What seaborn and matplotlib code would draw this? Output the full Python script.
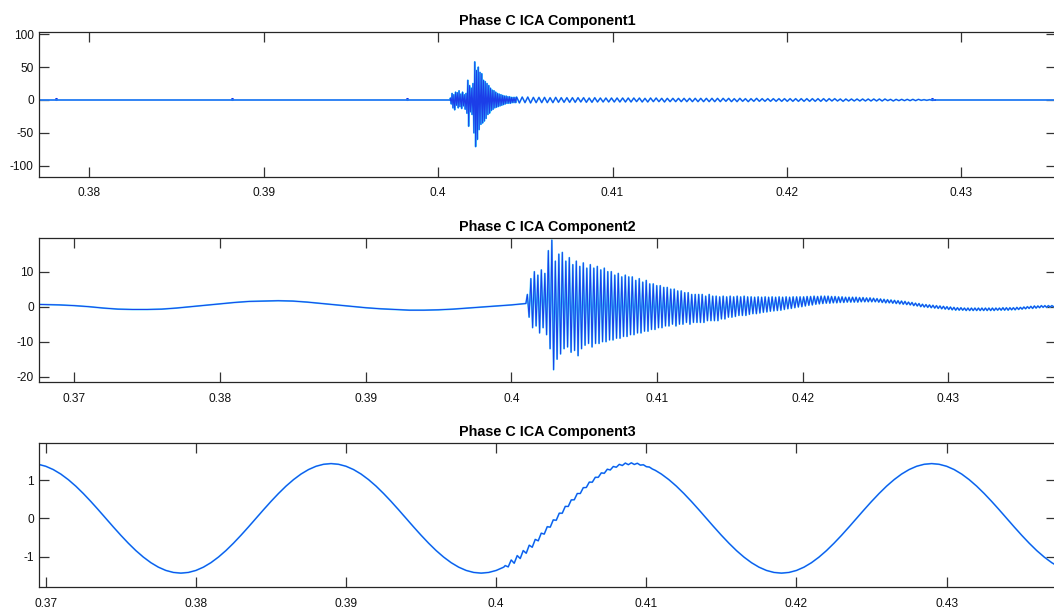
import numpy as np
import pandas as pd
import matplotlib
matplotlib.use("Agg")
import matplotlib.pyplot as plt
import seaborn as sns

sns.set_style("ticks")
plt.rcParams["font.family"] = ["Liberation Sans", "DejaVu Sans"]

# ---------------- data ----------------
titles = ["Phase C ICA Component1", "Phase C ICA Component2", "Phase C ICA Component3"]

x_ticks_1 = [0.38, 0.39, 0.40, 0.41, 0.42, 0.43]
x_labels_1 = ["0.38", "0.39", "0.4", "0.41", "0.42", "0.43"]
x_ticks_23 = [0.37, 0.38, 0.39, 0.40, 0.41, 0.42, 0.43]
x_labels_23 = ["0.37", "0.38", "0.39", "0.4", "0.41", "0.42", "0.43"]
y_ticks_1 = [-100, -50, 0, 50, 100]
y_ticks_2 = [-20, -10, 0, 10]
y_ticks_3 = [-1, 0, 1]
x_lims = [(0.37713, 0.43540), (0.36760, 0.43735), (0.36957, 0.43725)]
y_lims = [(-116.7, 103.0), (-21.6, 19.7), (-1.80, 1.96)]

# Component 1
c1_pre_start, c1_pre_step = 0.3765, 0.0242
c1_pre = [0.0, 0.0]
c1_burst_start, c1_burst_step = 0.4007, 0.00005
c1_burst = [3, -6, 10, -12, 8, -15, 12, -8, 11, -12, 14, -10, 9, -13, 12, -9, 8, -14, 10,
            -20, 30, -40, 22, -18, 18, -22, 25,
            -50, 58, -71, 45, -60, 50, -45, 42,
            -37, 40, -35, 30, -32, 28, -28, 25, -22, 22, -20,
            18, -16, 15, -14, 14, -12, 12, -11, 10, -10, 9, -9, 8, -8, 7, -7,
            6, -6, 6, -5, 5, -5, 5, -5, 4, -4, 4, -4, 4, -4]
c1_ring_start, c1_ring_step = 0.4045, 0.00016
c1_ring = [4.5, -4.5, 4.5, -4.0, 4.5, -4.5, 4.0, -4.0, 4.0, -4.0,
           4.0, -4.0, 3.5, -4.0, 4.0, -3.5, 3.5, -3.5, 3.5, -3.5,
           3.5, -3.5, 3.5, -3.0, 3.5, -3.5, 3.0, -3.5, 3.5, -3.0,
           3.0, -3.0, 3.0, -3.0, 3.0, -3.0, 3.0, -3.0, 3.0, -3.0,
           3.0, -3.0, 3.0, -2.5, 3.0, -3.0, 2.5, -3.0, 3.0, -2.5,
           3.0, -2.5, 2.5, -3.0, 2.5, -2.5, 2.5, -2.5, 2.5, -2.5,
           2.5, -2.5, 2.5, -2.5, 2.5, -2.5, 2.5, -2.5, 2.5, -2.5,
           2.5, -2.5, 2.5, -2.5, 2.5, -2.0, 2.5, -2.5, 2.0, -2.5,
           2.5, -2.0, 2.0, -2.5, 2.0, -2.0, 2.5, -2.0, 2.0, -2.0,
           2.0, -2.0, 2.0, -2.0, 2.0, -2.0, 2.0, -2.0, 2.0, -2.0,
           2.0, -2.0, 2.0, -2.0, 2.0, -2.0, 2.0, -2.0, 2.0, -2.0,
           2.0, -2.0, 2.0, -1.5, 2.0, -1.5, 1.5, -2.0, 1.5, -1.5,
           1.5, -1.5, 1.5, -1.5, 1.5, -1.5, 1.5, -1.5, 1.5, -1.5,
           1.5, -1.5, 1.5, -1.0, 1.0, -1.5, 1.0, -1.0, 1.0, -1.0,
           1.0, -1.0, 1.0, -1.0, 1.0, -0.5, 0.5, -0.5, 0.5, -0.5,
           0.0]
c1_post_start, c1_post_step = 0.4285, 0.0080
c1_post = [0.0, 0.0]
c1_blip_t = [0.3781, 0.3882, 0.3982, 0.4283]
c1_blip_v = [1.5, 1.5, 1.5, 1.5]

# Component 2
c2_pre_start, c2_pre_step = 0.3670, 0.001
c2_pre = [0.7, 0.6, 0.5, 0.3, 0.0, -0.4, -0.7, -0.8, -0.8, -0.7,
          -0.4, 0.0, 0.4, 0.8, 1.2, 1.5, 1.6, 1.7, 1.6, 1.3,
          0.9, 0.5, 0.1, -0.3, -0.6, -0.8, -1.0, -1.0, -0.9, -0.7,
          -0.4, -0.1, 0.2, 0.5, 0.9]
c2_burst_start, c2_burst_step = 0.4011, 0.00012
c2_burst = [3.5, -3.0, 8.0, -6.0, 10.0, -5.5, 9.0, -7.5, 10.5, -6.0, 9.5, -8.0, 16.0, -12.0, 19.0, -18.0, 13.0, -15.0, 15.0, -13.5,
            15.5, -12.0, 13.0, -11.5, 14.0, -13.0, 12.0, -12.5, 13.0, -14.0, 11.5, -12.0, 12.5, -11.0, 11.0, -10.5, 12.0, -11.5, 11.0, -10.5,
            11.5, -10.5, 10.5, -10.0, 11.0, -10.0, 10.0, -9.5, 10.0, -9.5, 9.0, -9.0, 9.5, -9.0, 8.5, -8.5, 9.0, -8.5, 8.5, -8.0,
            8.5, -8.0, 7.5, -7.5, 8.0, -7.5, 7.0, -7.0, 7.5, -7.0, 6.5, -6.5, 6.5, -6.5, 6.0, -6.0, 6.0, -6.0, 5.5, -5.5,
            5.5, -5.5, 5.0, -5.0, 5.0, -5.5, 4.5, -5.0, 4.5, -5.0, 4.0, -4.5, 4.0, -5.0, 3.5, -4.5, 3.5, -4.5, 3.5, -4.5,
            3.5, -4.5, 3.0, -4.0, 3.5, -4.0, 3.0, -4.0, 3.0, -4.0, 2.8, -3.5, 3.0, -3.5, 2.8, -3.0, 3.0, -3.0, 2.8, -2.8,
            3.0, -2.5, 2.8, -2.5, 3.0, -2.5, 2.8, -2.2, 2.8, -2.0, 2.7, -2.0, 2.8, -1.8, 2.7, -1.6, 2.8, -1.5, 2.7, -1.3,
            2.8, -1.2, 2.7, -1.1, 2.8, -1.0, 2.7, -0.8, 2.8, -0.6, 2.7, -0.5, 2.8, -0.3, 2.8, -0.1, 2.8, 0.0, 2.8, 0.2,
            2.9, 0.4, 2.9, 0.5, 3.0, 0.7, 2.9, 0.8, 3.0, 0.9, 3.0, 1.0, 3.0, 1.0, 2.9, 1.1, 2.9, 1.1, 2.8, 1.2,
            2.8, 1.2, 2.7, 1.3, 2.7, 1.3, 2.7, 1.3, 2.7, 1.3, 2.6, 1.4, 2.6, 1.4, 2.5, 1.4, 2.5, 1.4, 2.4, 1.4,
            2.3, 1.3, 2.2, 1.2, 2.1, 1.1, 2.0, 1.1, 1.9, 1.0, 1.8, 0.9, 1.7, 0.8, 1.6, 0.7, 1.5, 0.6, 1.3, 0.5,
            1.2, 0.3, 1.0, 0.2, 0.9, 0.0, 0.7, -0.1, 0.6, -0.2, 0.5, -0.3, 0.4, -0.4, 0.3, -0.5, 0.2, -0.6, 0.1, -0.7,
            0.0, -0.8, -0.1, -0.9, -0.2, -1.0, -0.3, -1.0, -0.3, -1.0, -0.4, -1.1, -0.4, -1.1, -0.4, -1.1, -0.4, -1.1, -0.4, -1.1,
            -0.4, -1.1, -0.4, -1.1, -0.4, -1.1, -0.4, -1.1, -0.4, -1.0, -0.4, -1.0, -0.3, -1.0, -0.3, -1.0, -0.3, -0.9, -0.3, -0.9,
            -0.2, -0.8, -0.2, -0.7, -0.1, -0.6, 0.0, -0.5, 0.1, -0.5, 0.2, -0.4, 0.2, -0.3, 0.3, -0.2, 0.3, -0.2, 0.3, -0.1,
            0.3, 0.0]

# Component 3
c3_pre_start, c3_pre_step = 0.369, 0.0005
c3_pre = [1.430, 1.412, 1.360, 1.274, 1.157, 1.011, 0.841, 0.649, 0.442, 0.224,
          0.0, -0.224, -0.442, -0.649, -0.841, -1.011, -1.157, -1.274, -1.360, -1.412,
          -1.430, -1.412, -1.360, -1.274, -1.157, -1.011, -0.841, -0.649, -0.442, -0.224,
          0.0, 0.224, 0.442, 0.649, 0.841, 1.011, 1.157, 1.274, 1.360, 1.412,
          1.430, 1.412, 1.360, 1.274, 1.157, 1.011, 0.841, 0.649, 0.442, 0.224,
          0.0, -0.224, -0.442, -0.649, -0.841, -1.011, -1.157, -1.274, -1.360, -1.412,
          -1.430, -1.412, -1.360, -1.274]
c3_ripple_start, c3_ripple_step = 0.4006, 0.0002
c3_ripple = [-1.233, -1.267, -1.087, -1.172, -0.972, -1.049, -0.841, -0.911, -0.701, -0.754,
             -0.549, -0.586, -0.387, -0.411, -0.218, -0.229, -0.040, -0.050, 0.135, 0.134,
             0.313, 0.311, 0.482, 0.486, 0.649, 0.649, 0.801, 0.806, 0.946, 0.944,
             1.072, 1.072, 1.187, 1.177, 1.283, 1.264, 1.355, 1.335, 1.410, 1.380,
             1.444, 1.402, 1.450, 1.407, 1.439, 1.390, 1.400, 1.350, 1.340, 1.289,
             1.253]
c3_post_start, c3_post_step = 0.411, 0.0005
c3_post = [1.157, 1.011, 0.841, 0.649, 0.442, 0.224,
           0.0, -0.224, -0.442, -0.649, -0.841, -1.011, -1.157, -1.274, -1.360, -1.412,
           -1.430, -1.412, -1.360, -1.274, -1.157, -1.011, -0.841, -0.649, -0.442, -0.224,
           0.0, 0.224, 0.442, 0.649, 0.841, 1.011, 1.157, 1.274, 1.360, 1.412,
           1.430, 1.412, 1.360, 1.274, 1.157, 1.011, 0.841, 0.649, 0.442, 0.224,
           0.0, -0.224, -0.442, -0.649, -0.841, -1.011, -1.157, -1.274]


# ---------------- helpers ----------------
def seg(start, step, values):
    t = start + step * np.arange(len(values))
    return t, np.asarray(values, dtype=float)


def join(*segs):
    ts = np.concatenate([s[0] for s in segs])
    vs = np.concatenate([s[1] for s in segs])
    return pd.DataFrame({"t": ts, "v": vs})


df1 = join(seg(c1_pre_start, c1_pre_step, c1_pre),
           seg(c1_burst_start, c1_burst_step, c1_burst),
           seg(c1_ring_start, c1_ring_step, c1_ring),
           seg(c1_post_start, c1_post_step, c1_post))
df2 = join(seg(c2_pre_start, c2_pre_step, c2_pre),
           seg(c2_burst_start, c2_burst_step, c2_burst))
df3 = join(seg(c3_pre_start, c3_pre_step, c3_pre),
           seg(c3_ripple_start, c3_ripple_step, c3_ripple),
           seg(c3_post_start, c3_post_step, c3_post))
blips = pd.DataFrame({"t": c1_blip_t, "v": c1_blip_v})

# ---------------- figure ----------------
W, H = 1054, 608
fig = plt.figure(figsize=(W / 100, H / 100), dpi=100)
fig.patch.set_facecolor("white")

boxes = [(39.3, 32.3, 176.7), (39.3, 237.7, 382.3), (39.3, 443.3, 587.3)]
right_px = 1055.5
axes = []
for (lft, top, bot) in boxes:
    ax = fig.add_axes([lft / W, 1 - bot / H, (right_px - lft) / W, (bot - top) / H])
    axes.append(ax)

dfs = [df1, df2, df3]
xt = [x_ticks_1, x_ticks_23, x_ticks_23]
xl = [x_labels_1, x_labels_23, x_labels_23]
yt = [y_ticks_1, y_ticks_2, y_ticks_3]

for i, ax in enumerate(axes):
    d = dfs[i]
    sns.lineplot(data=d, x="t", y="v", ax=ax, sort=False, estimator=None,
                 color="#35c6ff", linewidth=1.25)
    sns.lineplot(data=d, x="t", y="v", ax=ax, sort=False, estimator=None,
                 color="#1a2fe6", linewidth=0.7, alpha=0.9)
    if i == 0:
        sns.scatterplot(data=blips, x="t", y="v", ax=ax, color="#1030ee",
                        s=5, linewidth=0)
    ax.set_xlim(*x_lims[i])
    ax.set_ylim(*y_lims[i])
    ax.set_xticks(xt[i])
    ax.set_xticklabels(xl[i])
    ax.set_yticks(yt[i])
    ax.set_yticklabels([str(v) for v in yt[i]])
    ax.set_xlabel("")
    ax.set_ylabel("")
    ax.set_title(titles[i], fontsize=10.4, fontweight="bold", pad=5, color="black")
    ax.tick_params(direction="in", length=7.5, width=0.9, color="#333333",
                   top=True, right=True, labelsize=8.6, labelcolor="#111111")
    ax.tick_params(axis="x", pad=7.5)
    ax.tick_params(axis="y", pad=4)
    for sp in ax.spines.values():
        sp.set_visible(True)
        sp.set_color("#262626")
        sp.set_linewidth(0.9)
    ax.set_facecolor("white")

fig.savefig("out.png", dpi=100, facecolor="white")
